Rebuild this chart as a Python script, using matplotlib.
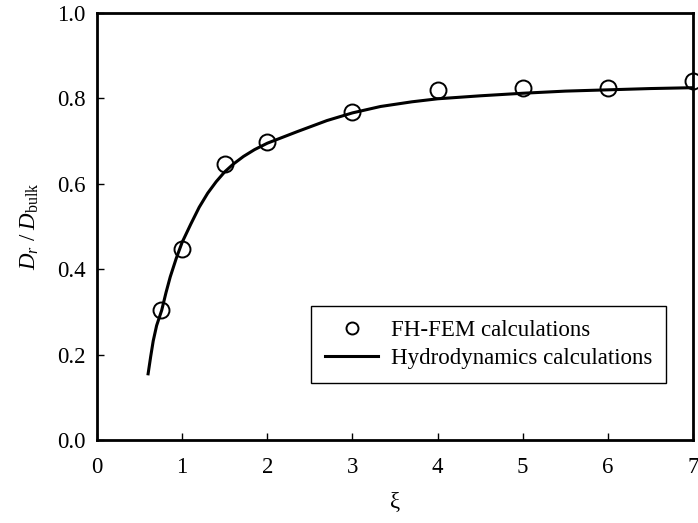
import numpy as np
import matplotlib
matplotlib.use('Agg')
import matplotlib.pyplot as plt
from matplotlib.ticker import FormatStrFormatter

plt.rcParams['font.family'] = ['Liberation Serif', 'DejaVu Serif']
plt.rcParams['mathtext.fontset'] = 'custom'
plt.rcParams['mathtext.rm'] = 'Liberation Serif'
plt.rcParams['mathtext.it'] = 'Liberation Serif:italic'

# FH-FEM calculations (circles)
xi_fem = [0.75, 1.0, 1.5, 2.0, 3.0, 4.0, 5.0, 6.0, 7.0]
d_fem = [0.304, 0.447, 0.646, 0.697, 0.767, 0.820, 0.824, 0.825, 0.841]

# Hydrodynamics calculations (line)
xi_hyd = [0.60, 0.63, 0.66, 0.70, 0.76, 0.81, 0.86, 0.93, 1.0, 1.1, 1.2, 1.3,
          1.4, 1.5, 1.6, 1.72, 1.85, 2.0, 2.35, 2.7, 3.0, 3.33, 3.7, 4.0,
          4.5, 5.0, 5.5, 6.0, 6.5, 7.0]
d_hyd = [0.155, 0.195, 0.232, 0.268, 0.304, 0.345, 0.382, 0.425, 0.463, 0.505,
         0.545, 0.578, 0.605, 0.628, 0.646, 0.664, 0.680, 0.695, 0.722, 0.748,
         0.766, 0.781, 0.792, 0.799, 0.806, 0.812, 0.817, 0.820, 0.823, 0.825]

fig = plt.figure(figsize=(6.98, 5.23), dpi=100)
ax = fig.add_axes([0.139, 0.1587, 0.8538, 0.8165])

ax.plot(xi_fem, d_fem, 'o', ms=11.5, mfc='none', mec='black', mew=1.4,
        label='FH-FEM calculations', clip_on=False, zorder=3)
ax.plot(xi_hyd, d_hyd, '-', color='black', lw=2.2,
        label='Hydrodynamics calculations')

ax.set_xlim(0, 7)
ax.set_ylim(0, 1.0)
ax.set_xticks(range(8))
ax.set_yticks(np.arange(0, 1.01, 0.2))
ax.yaxis.set_major_formatter(FormatStrFormatter('%.1f'))
ax.tick_params(direction='in', length=5, width=1, labelsize=16.5)
ax.tick_params(axis='x', pad=12)
ax.tick_params(axis='y', pad=8)

for s in ax.spines.values():
    s.set_linewidth(2)

ax.set_xlabel('ξ', fontsize=16.5, labelpad=10)
ax.set_ylabel(r'$D_r\ /\ D_{\rm bulk}$', fontsize=16.5, labelpad=12)

leg = ax.legend(loc='lower right', bbox_to_anchor=(0.955, 0.133), fontsize=16.5,
                fancybox=False, edgecolor='black', framealpha=1,
                handlelength=2.3, handletextpad=0.55, borderpad=0.62,
                labelspacing=0.3, markerscale=0.75, borderaxespad=0)
leg.get_frame().set_linewidth(1)

fig.savefig('out.png', dpi=100)
